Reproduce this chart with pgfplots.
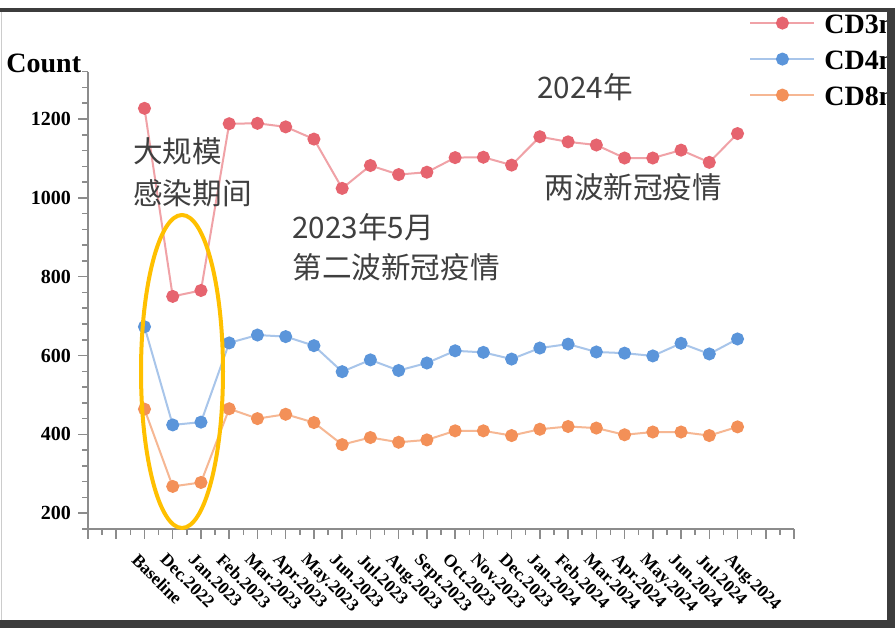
\documentclass[border=0pt]{standalone}
\usepackage{pgfplots}
\pgfplotsset{compat=1.18}
\usepackage{fontspec}
\setmainfont{Liberation Serif}
\newfontfamily\cjk{Noto Sans CJK SC}
\definecolor{axisgray}{HTML}{8C8C8C}
\definecolor{framec}{HTML}{3C3C3C}
\definecolor{cjkgray}{HTML}{3F3F3F}
\definecolor{gold}{HTML}{FFC000}
\definecolor{redmark}{HTML}{E6646F}
\definecolor{redline}{HTML}{F0A2A7}
\definecolor{bluemark}{HTML}{5B95DA}
\definecolor{blueline}{HTML}{A8C5EA}
\definecolor{orgmark}{HTML}{F39058}
\definecolor{orgline}{HTML}{F6B793}
\begin{document}
\begin{tikzpicture}[x=0.5bp,y=0.5bp]
\useasboundingbox (0,0) rectangle (895,630);
\clip (0,0) rectangle (895,630);
\fill[white] (0,0) rectangle (895,630);
\begin{axis}[
  at={(44bp,50.5bp)}, anchor=south west, scale only axis,
  width=353bp, height=228.65bp,
  xmin=-2, xmax=23, ymin=160, ymax=1320,
  clip=false,
  axis x line*=bottom, axis y line*=left,
  axis line style={draw=axisgray, line width=0.75bp},
  tick style={draw=axisgray, line width=0.75bp},
  tick align=outside,
  major tick length=5bp, minor tick length=3bp,
  xtick={-2,...,23},
  minor xtick={-1.5,-0.5,...,22.5},
  xticklabels={,,Baseline,Dec.2022,Jan.2023,Feb.2023,Mar.2023,Apr.2023,May.2023,Jun.2023,Jul.2023,Aug.2023,Sept.2023,Oct.2023,Nov.2023,Dec.2023,Jan.2024,Feb.2024,Mar.2024,Apr.2024,May.2024,Jun.2024,Jul.2024,Aug.2024,,},
  ytick={200,400,...,1200},
  minor ytick={160,240,280,320,360,440,480,520,560,640,680,720,760,840,880,920,960,1040,1080,1120,1160,1240,1280,1320},
  /pgf/number format/assume math mode=true,
  /pgf/number format/1000 sep={},
  yticklabel style={font=\fontsize{10bp}{10bp}\selectfont\bfseries},
  xticklabel style={font=\fontsize{8.8bp}{8.8bp}\selectfont\bfseries, xshift=-2.5bp, yshift=-6.5bp, rotate=-45, anchor=north west, inner sep=0pt},
  legend style={at={(axis description cs:0.9363,1.129)}, anchor=north west,
    draw=none, fill=none, inner sep=0pt, row sep=8bp, column sep=4.5bp,
    font=\fontsize{14bp}{14bp}\selectfont\bfseries,
    nodes={inner sep=0pt, text height=10bp, text depth=0pt}},
  legend cell align=left,
  legend image code/.code={\draw[#1, mark repeat=2, mark phase=2] plot coordinates {(0bp,0bp) (16bp,0bp) (32bp,0bp)};},
]
\addplot[color=redline, line width=1bp, mark=*, mark size=2.75bp, mark options={draw=redmark, fill=redmark}] coordinates {
(0,1227) (1,750) (2,765) (3,1188) (4,1189) (5,1180) (6,1149) (7,1024) (8,1082) (9,1059) (10,1065) (11,1102) (12,1103) (13,1083) (14,1155) (15,1142) (16,1134) (17,1101) (18,1101) (19,1121) (20,1090) (21,1163)};
\addlegendentry{CD3n}
\addplot[color=blueline, line width=1bp, mark=*, mark size=2.75bp, mark options={draw=bluemark, fill=bluemark}] coordinates {
(0,673) (1,424) (2,431) (3,632) (4,652) (5,648) (6,625) (7,559) (8,589) (9,562) (10,581) (11,612) (12,608) (13,591) (14,619) (15,629) (16,609) (17,606) (18,599) (19,631) (20,604) (21,642)};
\addlegendentry{CD4n}
\addplot[color=orgline, line width=1bp, mark=*, mark size=2.75bp, mark options={draw=orgmark, fill=orgmark}] coordinates {
(0,464) (1,268) (2,278) (3,465) (4,440) (5,451) (6,430) (7,374) (8,392) (9,380) (10,386) (11,409) (12,409) (13,397) (14,413) (15,420) (16,416) (17,399) (18,406) (19,406) (20,397) (21,419)};
\addlegendentry{CD8n}
\end{axis}
\node[anchor=base west, inner sep=0pt, font=\fontsize{14bp}{14bp}\selectfont\bfseries] at (6,557) {Count};
\begin{scope}[every node/.style={anchor=base west, inner sep=0pt, text=cjkgray, font=\cjk\fontsize{14.8bp}{14.8bp}\selectfont}]
\node at (133,467) {大规模};
\node at (133,425) {感染期间};
\node at (292,391) {2023年5月};
\node at (292,351) {第二波新冠疫情};
\node at (537,531) {2024年};
\node at (544,431.5) {两波新冠疫情};
\end{scope}
\draw[gold, line width=2bp] (182,258.5) ellipse [x radius=41, y radius=156.5];
\fill[framec] (0,618) rectangle (895,622);
\fill[framec] (887,2) rectangle (895,622);
\fill[framec] (0,2) rectangle (895,10);
\draw[gray!40, line width=0.75bp] (1.5,10) -- (1.5,618);
\end{tikzpicture}
\end{document}
